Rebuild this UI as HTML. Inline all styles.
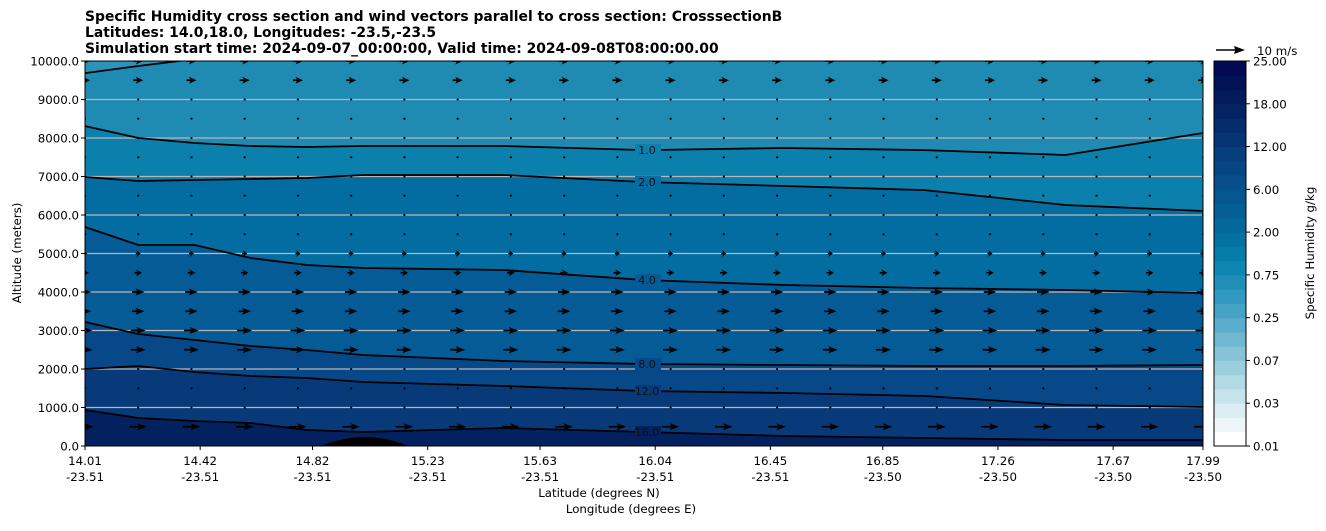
<!DOCTYPE html>
<html><head><meta charset="utf-8"><style>
body{margin:0;background:#fff;width:1326px;height:526px;overflow:hidden;font-family:"Liberation Sans","DejaVu Sans",sans-serif;}
svg text{font-family:"DejaVu Sans","Liberation Sans",sans-serif;}
</style></head><body>
<svg id="chart" width="1326" height="526" xmlns="http://www.w3.org/2000/svg">
<g font-size="13.9" font-weight="bold">
<text x="85" y="21">Specific Humidity cross section and wind vectors parallel to cross section: CrosssectionB</text>
<text x="85" y="37">Latitudes: 14.0,18.0, Longitudes: -23.5,-23.5</text>
<text x="85" y="53">Simulation start time: 2024-09-07_00:00:00, Valid time: 2024-09-08T08:00:00.00</text>
</g>
<g id="plot"></g>
<g id="axes"></g>
<g id="cbar"></g>
</svg>
<script>
// ---- data ----
const sampleLats = [14.01,14.2,14.4,14.6,14.8,15.0,15.5,16.0,16.5,17.0,17.5,17.99];
const contourLevels = ["0.5","1.0","2.0","4.0","8.0","12.0","16.0"];
const line05 = [9687,9869,10050,10100,10100,10100,10100,10100,10100,10100,10100,10100];
const line1 = [8310,7999,7869,7791,7765,7791,7791,7687,7739,7687,7558,8129];
const line2 = [6986,6882,6908,6934,6960,7038,7038,6856,6752,6648,6259,6103];
const line4 = [5688,5220,5220,4883,4701,4623,4571,4311,4181,4103,4052,3973];
const line8 = [3220,2909,2753,2597,2493,2363,2208,2130,2104,2078,2078,2104];
const line12 = [2000,2078,1922,1818,1766,1662,1558,1428,1376,1299,1065,1013];
const line16 = [935,727,649,597,416,364,468,364,260,208,156,156];
const bandColors = ["#2a94ba","#1f8bb3","#0b80ad","#036ca1","#045b95","#074888","#083a79","#03215e"];
const yTicks = [0,1000,2000,3000,4000,5000,6000,7000,8000,9000,10000];
const xTickLats = ["14.01","14.42","14.82","15.23","15.63","16.04","16.45","16.85","17.26","17.67","17.99"];
const xTickLons = ["-23.51","-23.51","-23.51","-23.51","-23.51","-23.51","-23.51","-23.50","-23.50","-23.50","-23.50"];
const windRows = [500,1000,1500,2000,2500,3000,3500,4000,4500,5000,5500,6000,6500,7000,7500,8000,8500,9000,9500,10000];
const windU = [7,1,-1,1,6,6,5,5,3,2,1,1,1,1,1,1,1,1,4,4];
const cbarTicks = ["0.01","0.03","0.07","0.25","0.75","2.00","6.00","12.00","18.00","25.00"];
const cbarColors = ["#ffffff","#eef6f9","#dcedf3","#c7e3ec","#b3d9e5","#9ccfde","#86c3d7","#70b8d0","#5aaecb","#45a3c5","#3199bf","#1f8fb9","#0d86b2","#047daa","#0372a3","#04689d","#045f97","#055791","#064f8b","#064684","#073e7c","#063574","#052c6b","#042362","#031a5c","#021257","#010a52"];
// ---- scales ----
const X0=85,X1=1203,Y0=446,Y1=61;
const FS=11.8;
const xs = lat => X0+(lat-14.01)/(17.99-14.01)*(X1-X0);
const ys = h => Y0-(h/10000)*(Y0-Y1);
const NS="http://www.w3.org/2000/svg";
function mk(tag,attrs,parent){const e=document.createElementNS(NS,tag);for(const k in attrs)e.setAttribute(k,attrs[k]);parent.appendChild(e);return e;}
const plot=document.getElementById('plot');
const defs=mk('defs',{},plot);
const cp=mk('clipPath',{id:'clip'},defs);
mk('rect',{x:X0,y:Y1,width:X1-X0,height:Y0-Y1},cp);
const g=mk('g',{'clip-path':'url(#clip)'},plot);
const lines=[line05,line1,line2,line4,line8,line12,line16];
const topBound=sampleLats.map(()=>10500), botBound=sampleLats.map(()=>-500);
const bounds=[topBound,...lines,botBound];
function pts(arr){return sampleLats.map((l,i)=>xs(l).toFixed(1)+','+ys(arr[i]).toFixed(1));}
for(let b=0;b<bounds.length-1;b++){
  const p=pts(bounds[b]).concat(pts(bounds[b+1]).reverse());
  const poly=mk('polygon',{points:p.join(' '),fill:bandColors[b]},g);
  
  
}
// terrain blob
const hill=mk('path',{d:`M${xs(14.85)} 446 Q${xs(15.01)} 428 ${xs(15.16)} 446 Z`,fill:'#000'},g);


// gridlines
yTicks.forEach(t=>{if(t>0&&t<10000){const l=mk('line',{x1:X0,x2:X1,y1:ys(t),y2:ys(t),stroke:'#b8b8b8','stroke-width':1.2},g);

}});
// contour lines
lines.forEach((arr,i)=>{const pl=mk('polyline',{points:pts(arr).join(' '),fill:'none',stroke:'#000','stroke-width':1.8},g);


if(i>0){const li=7;const x=xs(sampleLats[li])+3,y=ys(arr[li])+4;
 mk('rect',{x:x-12,y:y-10,width:26,height:13,fill:bandColors[i+1]},g);
 const t=mk('text',{x:x,y:y,'font-size':11,'text-anchor':'middle',fill:'#111'},g);t.textContent=contourLevels[i];
 
 }
});
// wind arrows
const scale=2.5;
for(let r=0;r<windRows.length;r++){for(let c=0;c<22;c++){
  const cx=X0+c*(X1-X0)/21, cy=ys(windRows[r]);
  const L=windU[r]*scale;
  let el;
  if(Math.abs(L)<4){el=mk('circle',{cx:cx,cy:cy,r:1.1,fill:'#000'},g);}
  else{const s=Math.sign(L),a=Math.abs(L);const x0=cx-s*a/2,x1=cx+s*a/2,hl=Math.min(8,a*0.6);
    el=mk('polygon',{points:`${x0},${cy-0.9} ${x1-s*hl},${cy-0.9} ${x1-s*hl-s*1.5},${cy-3.5} ${x1},${cy} ${x1-s*hl-s*1.5},${cy+3.5} ${x1-s*hl},${cy+0.9} ${x0},${cy+0.9}`,fill:'#000'},g);}
  
  
}}
// axes
const ax=document.getElementById('axes');
mk('rect',{x:X0,y:Y1,width:X1-X0,height:Y0-Y1,fill:'none',stroke:'#000','stroke-width':1},ax);
yTicks.forEach(t=>{mk('line',{x1:X0-4,x2:X0,y1:ys(t),y2:ys(t),stroke:'#000'},ax);
 const tx=mk('text',{x:X0-6,y:ys(t)+4.5,'font-size':FS,'text-anchor':'end'},ax);tx.textContent=t.toFixed(1);
 
 });
xTickLats.forEach((l,i)=>{const x=xs(parseFloat(l));mk('line',{x1:x,x2:x,y1:Y0,y2:Y0+4,stroke:'#000'},ax);
 const t1=mk('text',{x:x,y:465,'font-size':FS,'text-anchor':'middle'},ax);t1.textContent=l;
 
 
 const t2=mk('text',{x:x,y:481,'font-size':FS,'text-anchor':'middle'},ax);t2.textContent=xTickLons[i];
 
 });
const xl=mk('text',{x:599,y:497,'font-size':FS,'text-anchor':'middle'},ax);xl.textContent='Latitude (degrees N)';


const xl2=mk('text',{x:631,y:513,'font-size':FS,'text-anchor':'middle'},ax);xl2.textContent='Longitude (degrees E)';


const yl=mk('text',{x:21,y:253,'font-size':FS,'text-anchor':'middle',transform:'rotate(-90 21 253)'},ax);yl.textContent='Altitude (meters)';


// quiver key
mk('polygon',{points:'1216,49.2 1235,49.2 1234,46 1245,50 1234,54 1235,50.8 1216,50.8',fill:'#000'},ax);
const qk=mk('text',{x:1257,y:55,'font-size':FS},ax);qk.textContent='10 m/s';


// colorbar
const cb=document.getElementById('cbar');
const CX=1214,CW=32,n=cbarColors.length,bh=(Y0-Y1)/n;
cbarColors.forEach((c,i)=>{const r=mk('rect',{x:CX,y:Y0-(i+1)*bh,width:CW,height:bh+0.5,fill:c},cb);
 
 });
mk('rect',{x:CX,y:Y1,width:CW,height:Y0-Y1,fill:'none',stroke:'#000'},cb);
cbarTicks.forEach((t,i)=>{const y=Y0-i*(Y0-Y1)/(cbarTicks.length-1);
 mk('line',{x1:CX+CW,x2:CX+CW+4,y1:y,y2:y,stroke:'#000'},cb);
 const tx=mk('text',{x:CX+CW+7,y:y+4.5,'font-size':FS},cb);tx.textContent=t;
 
 });
const cl=mk('text',{x:1314,y:253,'font-size':FS,'text-anchor':'middle',transform:'rotate(-90 1314 253)'},cb);cl.textContent='Specific Humidity g/kg';


</script>
</body></html>
